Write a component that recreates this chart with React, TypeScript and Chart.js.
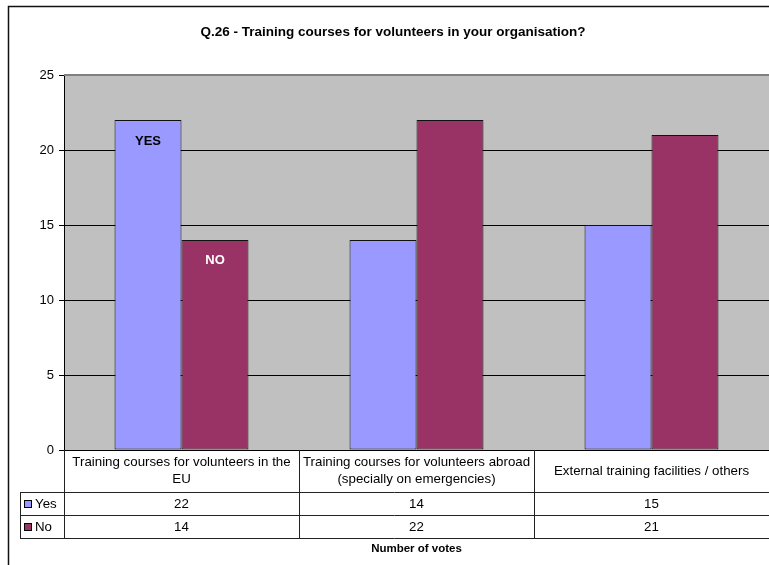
import React, { useEffect, useRef } from "react";
import { Chart, registerables } from "chart.js";

Chart.register(...registerables);

const TITLE = "Q.26 - Training courses for volunteers in your organisation?";
const AXIS_TITLE = "Number of votes";
const categories: string[][] = [
  ["Training courses for volunteers in the", "EU"],
  ["Training courses for volunteers abroad", "(specially on emergencies)"],
  ["External training facilities / others"],
];
const seriesNames = ["Yes", "No"];
const yesValues = [22, 14, 15];
const noValues = [14, 22, 21];
const barLabels = ["YES", "NO"];
const yMin = 0;
const yMax = 25;
const yStep = 5;

const YES_COLOR = "#9999FF";
const NO_COLOR = "#993366";
const FONT = '"Liberation Sans", Arial, sans-serif';

const decorPlugin = {
  id: "decor",
  beforeDraw(chart: any) {
    const { ctx, chartArea: ca } = chart;
    ctx.save();
    ctx.fillStyle = "#ffffff";
    ctx.fillRect(0, 0, chart.width, chart.height);
    ctx.fillStyle = "#C0C0C0";
    ctx.fillRect(ca.left, ca.top, ca.right - ca.left, ca.bottom - ca.top);
    ctx.restore();
  },
  afterDraw(chart: any) {
    const { ctx, chartArea: ca } = chart;
    const xs = chart.scales.x;
    const n = categories.length;
    const colW = (ca.right - ca.left) / n;
    ctx.save();

    // outer frame
    ctx.strokeStyle = "#111";
    ctx.lineWidth = 1.5;
    ctx.beginPath();
    ctx.moveTo(8.5, chart.height);
    ctx.lineTo(8.5, 6.5);
    ctx.lineTo(chart.width, 6.5);
    ctx.stroke();

    // plot top border
    ctx.strokeStyle = "#808080";
    ctx.lineWidth = 2;
    ctx.beginPath();
    ctx.moveTo(ca.left, ca.top);
    ctx.lineTo(ca.right, ca.top);
    ctx.stroke();

    // title
    ctx.fillStyle = "#000";
    ctx.font = `bold 13.5px ${FONT}`;
    ctx.textAlign = "center";
    ctx.textBaseline = "middle";
    ctx.fillText(TITLE, 393, 32);

    // bar labels on first category
    const m0 = chart.getDatasetMeta(0).data[0];
    const m1 = chart.getDatasetMeta(1).data[0];
    ctx.font = `bold 13px ${FONT}`;
    ctx.fillStyle = "#000";
    ctx.fillText(barLabels[0], m0.x, m0.y + 21);
    ctx.fillStyle = "#fff";
    ctx.fillText(barLabels[1], m1.x, m1.y + 20);

    // data table
    const top = ca.bottom;
    const r1 = top + 42;
    const r2 = r1 + 23;
    const r3 = r2 + 23;
    const legL = 20;
    ctx.strokeStyle = "#222";
    ctx.lineWidth = 1;
    ctx.beginPath();
    [r1, r2, r3].forEach((y) => {
      ctx.moveTo(legL, Math.round(y) + 0.5);
      ctx.lineTo(ca.right, Math.round(y) + 0.5);
    });
    ctx.moveTo(legL + 0.5, r1);
    ctx.lineTo(legL + 0.5, r3);
    for (let i = 0; i < n; i++) {
      const xl = Math.round(xs.getPixelForValue(i) - colW / 2) + 0.5;
      ctx.moveTo(xl, top);
      ctx.lineTo(xl, r3);
    }
    ctx.stroke();

    // header labels
    ctx.fillStyle = "#000";
    ctx.font = `13.3px ${FONT}`;
    ctx.textAlign = "center";
    ctx.textBaseline = "middle";
    const lh = 17;
    categories.forEach((lines, i) => {
      const cx = xs.getPixelForValue(i);
      const mid = (top + r1) / 2;
      const start = mid - ((lines.length - 1) * lh) / 2;
      lines.forEach((t, k) => ctx.fillText(t, cx, start + k * lh));
    });

    // rows
    const rows = [
      { name: seriesNames[0], vals: yesValues, color: YES_COLOR, y0: r1, y1: r2 },
      { name: seriesNames[1], vals: noValues, color: NO_COLOR, y0: r2, y1: r3 },
    ];
    rows.forEach((r) => {
      const cy = (r.y0 + r.y1) / 2 + 0.5;
      ctx.fillStyle = r.color;
      ctx.fillRect(24, Math.round(cy) - 4, 7, 7);
      ctx.strokeStyle = "#000";
      ctx.strokeRect(24.5, Math.round(cy) - 3.5, 7, 7);
      ctx.fillStyle = "#000";
      ctx.textAlign = "left";
      ctx.fillText(r.name, 35, cy);
      ctx.textAlign = "center";
      r.vals.forEach((v, i) => {
        ctx.fillText(String(v), xs.getPixelForValue(i), cy);
      });
    });

    // axis title
    ctx.font = `bold 11.5px ${FONT}`;
    ctx.fillText(AXIS_TITLE, (ca.left + ca.right) / 2, r3 + 11);

    ctx.restore();
  },
};

export default function App() {
  const ref = useRef<HTMLCanvasElement | null>(null);
  useEffect(() => {
    if (!ref.current) return;
    const chart = new Chart(ref.current, {
      type: "bar",
      data: {
        labels: categories.map((c) => c.join(" ")),
        datasets: [
          {
            label: seriesNames[0],
            data: yesValues,
            backgroundColor: YES_COLOR,
            borderColor: "#111",
            borderWidth: 1,
            borderSkipped: false,
          },
          {
            label: seriesNames[1],
            data: noValues,
            backgroundColor: NO_COLOR,
            borderColor: "#111",
            borderWidth: 1,
            borderSkipped: false,
          },
        ],
      },
      options: {
        responsive: false,
        animation: false,
        devicePixelRatio: 1,
        layout: { padding: { top: 75, bottom: 115, left: 0, right: 0 } },
        datasets: { bar: { categoryPercentage: 0.57, barPercentage: 1 } },
        plugins: {
          legend: { display: false },
          tooltip: { enabled: false },
          title: { display: false },
        },
        scales: {
          x: { display: false },
          y: {
            min: yMin,
            max: yMax,
            ticks: {
              stepSize: yStep,
              color: "#000",
              padding: 5,
              font: { family: FONT, size: 13 },
            },
            grid: { color: "#000", tickColor: "#000", tickLength: 5, lineWidth: 1 },
            border: { display: true, color: "#000", width: 1 },
            afterFit: (scale: any) => {
              scale.width = 64;
            },
          },
        },
      },
      plugins: [decorPlugin],
    } as any);
    return () => chart.destroy();
  }, []);
  return (
    <div style={{ position: "fixed", left: 0, top: 0, width: 769, height: 565 }}>
      <canvas ref={ref} width={769} height={565} style={{ width: 769, height: 565, display: "block" }} />
    </div>
  );
}
